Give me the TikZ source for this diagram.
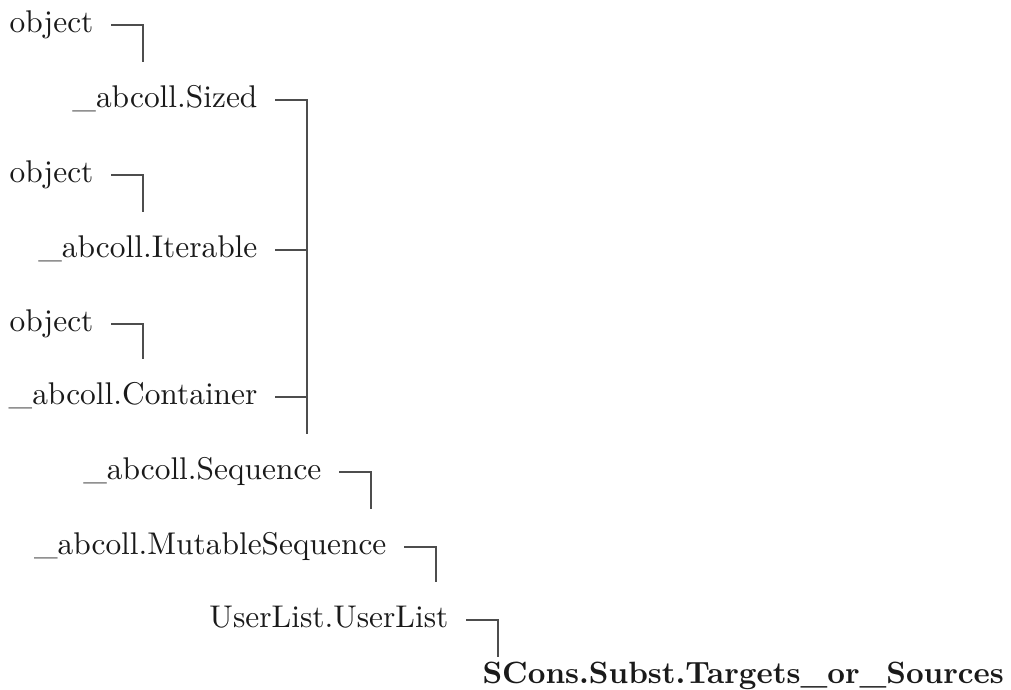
\documentclass[tikz,border=0pt]{standalone}
\usepackage{tikz}
\usetikzlibrary{positioning,calc}
\definecolor{ctext}{HTML}{1A1A1A}
\definecolor{cline}{HTML}{4D4D4D}

\begin{document}
\begin{tikzpicture}[x=0.3185pt, y=-0.3185pt,
  cls/.style={anchor=base east, inner xsep=5.4pt, inner ysep=7.4pt,
              text height=6.94pt, text depth=1.94pt, text=ctext},
  leaf/.style={cls, anchor=base west, inner ysep=1.3pt,
               font=\fontsize{9.8pt}{12pt}\selectfont\bfseries},
  link/.style={draw=cline, line width=0.45pt},
  elbow/.style={to path={-- ++(32,0) coordinate (bend) -- (bend |- \tikztotarget.north)}}]
  \useasboundingbox (0,0) rectangle (1011,690);
  % --- bases: three roots, each feeding one abstract class
  \node[cls] (objA)  at (111,33)  {object};
  \node[cls] (sized) at (275,108) {\_abcoll.Sized};
  \node[cls] (objB)  at (111,183) {object};
  \node[cls] (iter)  at (275,258) {\_abcoll.Iterable};
  \node[cls] (objC)  at (111,332) {object};
  \node[cls] (cont)  at (275,405) {\_abcoll.Container};
  % --- chain down to the leaf class
  \node[cls] (seq)   at (339,480) {\_abcoll.Sequence};
  \node[cls] (mseq)  at (404,555) {\_abcoll.MutableSequence};
  \node[cls] (ulist) at (466,628) {UserList.UserList};
  \node[leaf] (tos)  at (465,684) {SCons.Subst.Targets\_or\_Sources};
  \draw[link] (objA.east)  to[elbow] (sized);
  \draw[link] (objB.east)  to[elbow] (iter);
  \draw[link] (objC.east)  to[elbow] (cont);
  \draw[link] (sized.east) to[elbow] (seq);
  \draw[link] (iter.east)  to[elbow] (seq);
  \draw[link] (cont.east)  to[elbow] (seq);
  \draw[link] (seq.east)   to[elbow] (mseq);
  \draw[link] (mseq.east)  to[elbow] (ulist);
  \draw[link] (ulist.east) to[elbow] (tos);
\end{tikzpicture}
\end{document}
